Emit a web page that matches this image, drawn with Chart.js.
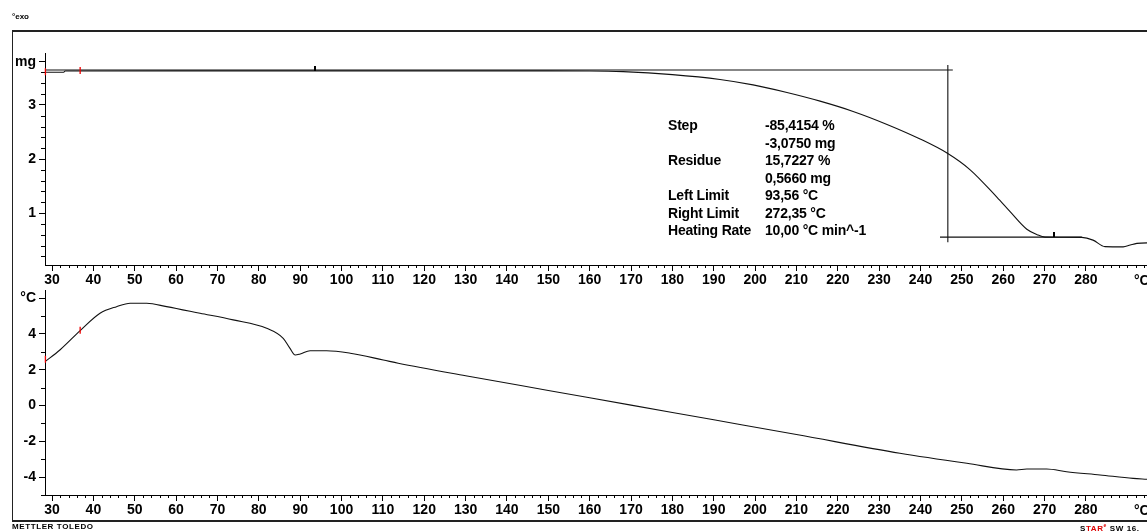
<!DOCTYPE html>
<html>
<head>
<meta charset="utf-8">
<script src="https://cdn.jsdelivr.net/npm/chart.js@4.4.1/dist/chart.umd.min.js"></script>
<style>
  html, body { margin: 0; padding: 0; background: #fff; overflow: hidden; width: 1147px; height: 531px; }
  body { position: relative; font-family: "Liberation Sans", Arial, sans-serif; color: #000; }
  canvas { position: absolute; left: 0; }
  #frame { position: absolute; left: 12px; top: 30px; width: 1200px; height: 488px;
           border-top: 2px solid #222; border-bottom: 2px solid #222; border-left: 1px solid #222; }
  .tiny { position: absolute; font-size: 8px; font-weight: bold; white-space: nowrap; }
  .note { position: absolute; top: 117px; font-size: 14px; font-weight: bold; letter-spacing: -0.2px;
          line-height: 17.5px; white-space: pre; }
  .unit { position: absolute; font-size: 14px; font-weight: bold; }
</style>
</head>
<body>
<div id="frame"></div>
<canvas id="tga" width="1160" height="292" style="top:0px"></canvas>
<canvas id="dta" width="1160" height="260" style="top:270px"></canvas>

<div class="tiny" style="left:12px; top:12px;">°exo</div>
<div class="tiny" style="left:12px; top:522px; letter-spacing:0.6px;">METTLER TOLEDO</div>
<div class="tiny" style="left:1080px; top:522px; letter-spacing:0.6px;">S<span style="color:#d00">TAR</span><sup style="color:#d00;font-size:5px">e</sup> SW 16.</div>
<div class="unit" style="left:1134px; top:272px;">°C</div>
<div class="unit" style="left:1134px; top:502px;">°C</div>
<div class="note" id="noteLeft" style="left:668px;"></div>
<div class="note" id="noteRight" style="left:765px;"></div>

<script>
// mass curve (TGA), temperature in °C, mass in mg
const massTemp = [28.3, 32.8, 33.2, 60, 100, 150, 160, 168.1, 180, 191.5, 199.5, 207.7, 215.7, 223.7, 231.9, 239.9,
                  246.4, 252.0, 258.5, 261.6, 265.7, 268.2, 270.1, 279.0, 281.7, 284.6, 289.0, 290.7, 292.3, 294.8, 298];
const massMg   = [3.605, 3.605, 3.628, 3.63, 3.63, 3.63, 3.628, 3.615, 3.56, 3.47, 3.37, 3.23, 3.07, 2.88, 2.64, 2.37,
                  2.11, 1.80, 1.29, 1.03, 0.70, 0.60, 0.556, 0.55, 0.50, 0.38, 0.376, 0.41, 0.44, 0.45, 0.45];

// sample temperature signal (SDTA), °C
const dtaTemp  = [28.3, 31.9, 36.8, 41.6, 45.6, 48.9, 52.9, 57.7, 65.8, 73.8, 81.9, 85.9, 87.5, 88.8, 90.0, 92.4, 96.4,
                  102.1, 110.1, 113.7, 130, 150, 170, 190, 210, 235.0, 251.2, 263.2, 265.7, 270.5, 275.3, 283.4, 291.4, 294.7, 298];
const dtaValue = [2.45, 3.10, 4.18, 5.15, 5.52, 5.71, 5.71, 5.52, 5.15, 4.78, 4.31, 3.75, 3.20, 2.82, 2.88, 3.06, 3.06,
                  2.92, 2.54, 2.36, 1.66, 0.84, 0.02, -0.80, -1.62, -2.67, -3.23, -3.60, -3.55, -3.55, -3.70, -3.88, -4.07, -4.12, -4.17];

// step evaluation construction lines
const stepLeftTemp = [28.3, 247.8];   const stepLeftMg = [3.645, 3.645];
const stepVertTemp = [246.6, 246.6];  const stepVertMg = [3.74, 0.46];
const stepRightTemp = [244.7, 279];   const stepRightMg = [0.556, 0.556];
const limitTemp = [93.56, 272.35];    const limitMg = [3.63, 0.556];
const tgaRedTemp = [28.4, 36.8];      const tgaRedMg = [3.605, 3.628];
const dtaRedTemp = [28.4, 36.8];      const dtaRedValue = [2.55, 4.18];

const xTicks = [30, 40, 50, 60, 70, 80, 90, 100, 110, 120, 130, 140, 150, 160, 170, 180, 190, 200, 210, 220, 230, 240, 250, 260, 270, 280];
const massTicks = [1, 2, 3];
const dtaTicks = [-4, -2, 0, 2, 4];

const noteNames  = ['Step', '', 'Residue', '', 'Left Limit', 'Right Limit', 'Heating Rate'];
const noteValues = ['-85,4154 %', '-3,0750 mg', '15,7227 %', '0,5660 mg', '93,56 °C', '272,35 °C', '10,00 °C min^-1'];

document.getElementById('noteLeft').textContent = noteNames.join('\n');
document.getElementById('noteRight').textContent = noteValues.join('\n');

const X_MIN = 28.3, X_MAX = 297.9;
const FONT = { family: '"Liberation Sans", Arial, sans-serif', size: 14, weight: 'bold' };

const pts = (xs, ys) => xs.map((x, i) => ({ x, y: ys[i] }));

const line = (data, smooth) => ({
    data,
    borderColor: '#111',
    borderWidth: 1.1,
    pointRadius: 0,
    fill: false,
    cubicInterpolationMode: smooth ? 'monotone' : 'default',
    tension: 0
});

// short minor ticks and the little evaluation markers
const extras = {
    id: 'extras',
    afterDraw(chart, args, opts) {
        const { ctx, scales: { x, y } } = chart;
        ctx.save();
        ctx.strokeStyle = '#000';
        ctx.lineWidth = 1;
        ctx.beginPath();
        for (let v = 30; v <= X_MAX; v += 2) {
            if (v % 10 === 0 && v <= 280) continue;
            const px = Math.round(x.getPixelForValue(v)) + 0.5;
            ctx.moveTo(px, x.top);
            ctx.lineTo(px, x.top + 3);
        }
        for (let v = opts.yFrom; v <= y.max + 1e-9; v += opts.yStep) {
            const val = Math.round(v * 10) / 10;
            if (opts.yMajor.includes(val) || val === opts.unitAt) continue;
            const py = Math.round(y.getPixelForValue(val)) + 0.5;
            ctx.moveTo(y.right - 4, py);
            ctx.lineTo(y.right, py);
        }
        ctx.stroke();

        (opts.blackT || []).forEach((t, i) => {
            const px = x.getPixelForValue(t), py = y.getPixelForValue(opts.blackV[i]);
            ctx.fillStyle = '#000';
            ctx.fillRect(Math.round(px) - 1, Math.round(py) - 5, 2, 5);
        });
        ctx.strokeStyle = '#e00';
        ctx.lineWidth = 1.3;
        ctx.beginPath();
        opts.redT.forEach((t, i) => {
            const px = x.getPixelForValue(t), py = y.getPixelForValue(opts.redV[i]);
            ctx.moveTo(px, py - 4);
            ctx.lineTo(px, py + 3);
        });
        ctx.stroke();
        ctx.restore();
    }
};

function panel(id, datasets, cfg) {
    return new Chart(document.getElementById(id), {
        type: 'line',
        data: { datasets },
        plugins: [extras],
        options: {
            responsive: false,
            animation: false,
            parsing: false,
            layout: { padding: { top: cfg.padTop, left: 0, right: 0, bottom: 0 } },
            plugins: {
                legend: { display: false },
                tooltip: { enabled: false },
                extras: cfg.extras
            },
            scales: {
                x: {
                    type: 'linear',
                    min: X_MIN,
                    max: X_MAX,
                    afterBuildTicks: s => { s.ticks = xTicks.map(v => ({ value: v })); },
                    afterFit: s => { s.height = cfg.axisH; },
                    grid: { drawOnChartArea: false, drawTicks: true, tickLength: 6, color: '#000' },
                    border: { display: true, color: '#000', width: 1 },
                    ticks: { autoSkip: false, maxRotation: 0, padding: 1, color: '#000', font: FONT }
                },
                y: {
                    type: 'linear',
                    min: cfg.yMin,
                    max: cfg.yMax,
                    afterBuildTicks: s => { s.ticks = cfg.yTicks.concat([cfg.unitAt]).map(v => ({ value: v })); },
                    afterFit: s => { s.width = 45; },
                    grid: { drawOnChartArea: false, drawTicks: true, tickLength: 6, color: '#000' },
                    border: { display: true, color: '#000', width: 1 },
                    ticks: {
                        padding: 3,
                        color: '#000',
                        font: FONT,
                        callback: v => (v === cfg.unitAt ? cfg.unit : v)
                    }
                }
            }
        }
    });
}

panel('tga', [
    line(pts(massTemp, massMg), true),
    line(pts(stepLeftTemp, stepLeftMg), false),
    line(pts(stepVertTemp, stepVertMg), false),
    line(pts(stepRightTemp, stepRightMg), false)
], {
    padTop: 53, axisH: 27, yMin: 0.04, yMax: 3.96, yTicks: massTicks, unitAt: 3.8, unit: 'mg',
    extras: { yFrom: 0.2, yStep: 0.2, yMajor: massTicks, unitAt: 3.8,
              blackT: limitTemp, blackV: limitMg, redT: tgaRedTemp, redV: tgaRedMg }
});

panel('dta', [
    line(pts(dtaTemp, dtaValue), true)
], {
    padTop: 20, axisH: 35, yMin: -5, yMax: 6.45, yTicks: dtaTicks, unitAt: 6, unit: '°C',
    extras: { yFrom: -5, yStep: 1, yMajor: dtaTicks, unitAt: 6,
              redT: dtaRedTemp, redV: dtaRedValue }
});
</script>
</body>
</html>
